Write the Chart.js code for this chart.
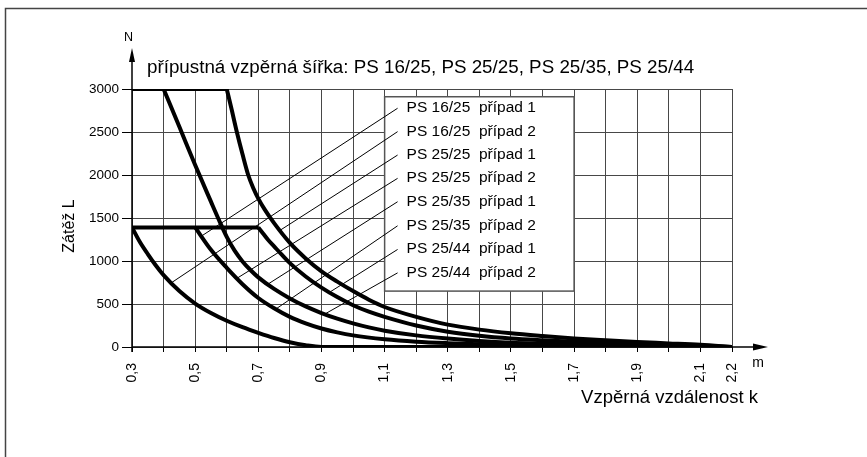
<!DOCTYPE html>
<html><head><meta charset="utf-8">
<script src="https://cdn.jsdelivr.net/npm/chart.js@4/dist/chart.umd.min.js"></script>
<style>html,body{margin:0;padding:0;background:#fff}#wrap{width:867px;height:457px;position:relative}</style>
</head><body><div id="wrap"><canvas id="c" width="867" height="457"></canvas></div>
<script>
const FONT = "'Liberation Sans', Arial, Helvetica, sans-serif";

// ---- tick values and labels ----
const xGridValues = [0.3,0.4,0.5,0.6,0.7,0.8,0.9,1.0,1.1,1.2,1.3,1.4,1.5,1.6,1.7,1.8,1.9,2.0,2.1,2.2];
const xLabelValues = [0.3,0.5,0.7,0.9,1.1,1.3,1.5,1.7,1.9,2.1,2.2];
const xTickLabels = ['0,3','0,5','0,7','0,9','1,1','1,3','1,5','1,7','1,9','2,1','2,2'];
const yTickValues = [0,500,1000,1500,2000,2500,3000];
const yTickLabels = ['0','500','1000','1500','2000','2500','3000'];

// ---- texts ----
const titleText = 'přípustná vzpěrná šířka: PS 16/25, PS 25/25, PS 25/35, PS 25/44';
const xAxisTitle = 'Vzpěrná vzdálenost k';
const yAxisTitle = 'Zátěž L';
const xUnit = 'm';
const yUnit = 'N';
const legendLabels = ['PS 16/25  případ 1','PS 16/25  případ 2','PS 25/25  případ 1','PS 25/25  případ 2',
                      'PS 25/35  případ 1','PS 25/35  případ 2','PS 25/44  případ 1','PS 25/44  případ 2'];

// ---- series (x = k [m], y = L [N]) ----
const flat3000 = [[0.3,3000],[0.6,3000]];
const flat1390 = [[0.3,1390],[0.7,1390]];
const curveA = [[0.6,3000],[0.615,2770],[0.632,2500],[0.65,2240],[0.668,2000],[0.685,1840],[0.7,1725],[0.72,1600],[0.75,1440],[0.8,1210],[0.85,1030],[0.9,880],[0.95,760],[1.0,650],[1.05,550],[1.1,465],[1.2,350],[1.3,260],[1.4,202],[1.5,160],[1.6,128],[1.7,100],[1.8,78],[1.9,58],[2.0,42],[2.1,25],[2.2,0]];
const curveB = [[0.4,3000],[0.45,2560],[0.5,2115],[0.55,1690],[0.575,1480],[0.6,1280],[0.625,1120],[0.65,995],[0.675,895],[0.7,810],[0.75,675],[0.8,565],[0.85,472],[0.9,395],[0.95,330],[1.0,275],[1.05,228],[1.1,190],[1.2,135],[1.3,98],[1.4,70],[1.5,50],[1.6,39],[1.7,30],[1.9,16],[2.1,6],[2.2,0]];
const curveC = [[0.7,1390],[0.715,1320],[0.73,1250],[0.75,1170],[0.775,1070],[0.8,975],[0.85,820],[0.9,690],[0.95,580],[1.0,485],[1.05,410],[1.1,350],[1.2,250],[1.3,178],[1.4,130],[1.5,98],[1.6,78],[1.7,62],[1.8,48],[1.9,35],[2.0,24],[2.1,12],[2.2,0]];
const curveD = [[0.5,1390],[0.55,1130],[0.6,920],[0.65,730],[0.7,570],[0.75,450],[0.8,350],[0.85,275],[0.9,215],[0.95,170],[1.0,135],[1.1,90],[1.2,62],[1.3,45],[1.4,33],[1.5,25],[1.7,14],[1.9,7],[2.2,0]];
const curveE = [[0.3,1390],[0.325,1220],[0.35,1080],[0.375,950],[0.4,835],[0.45,650],[0.5,505],[0.55,395],[0.6,305],[0.65,230],[0.7,165],[0.75,105],[0.8,55],[0.85,20],[0.9,0],[2.2,0]];

// ---- leader lines from curves to legend rows ----
const leaderStarts = [[0.52,1290],[0.426,750],[0.768,1355],[0.632,798],[0.73,730],[0.755,440],[0.925,635],[0.91,382]];
const leaderEndX = 1.141;
const leaderEndY = [2776,2504,2232,1961,1689,1409,1134,862];

// legend box extent in data units
const legendBoxX = [1.1, 1.7];
const legendBoxY = [650, 2910];

const pts = a => a.map(p => ({x:p[0], y:p[1]}));
const thick = (arr, smooth) => ({data: pts(arr), borderColor:'#000', borderWidth:4, pointRadius:0, showLine:true,
  fill:false, tension: smooth ? 0.4 : 0, cubicInterpolationMode: smooth ? 'monotone' : 'default', borderCapStyle:'butt', borderJoinStyle:'round'});

const datasets = [
  thick(flat3000,false), thick(flat1390,false),
  thick(curveA,true), thick(curveB,true), thick(curveC,true), thick(curveD,true), thick(curveE,true)
];
leaderStarts.forEach((s,i) => {
  datasets.push({data: pts([s,[leaderEndX, leaderEndY[i]]]), borderColor:'#000', borderWidth:1, pointRadius:0, showLine:true, tension:0});
});

const deco = {
  id:'deco',
  beforeDraw(chart){
    const ctx = chart.ctx;
    ctx.save();
    ctx.fillStyle = '#fff';
    ctx.fillRect(0,0,chart.width,chart.height);
    ctx.strokeStyle = '#444';
    ctx.lineWidth = 1.5;
    ctx.strokeRect(5.5, 8.5, 1000, 1000);
    ctx.restore();
  },
  beforeDatasetsDraw(chart){
    const {x, y} = chart.scales; const ctx = chart.ctx;
    const l = x.getPixelForValue(legendBoxX[0]), r = x.getPixelForValue(legendBoxX[1]);
    const t = y.getPixelForValue(legendBoxY[1]), b = y.getPixelForValue(legendBoxY[0]);
    ctx.save();
    ctx.fillStyle = '#fff';
    ctx.fillRect(l, t, r-l, b-t);
    ctx.strokeStyle = '#555'; ctx.lineWidth = 1.5;
    ctx.strokeRect(l, t, r-l, b-t);
    ctx.fillStyle = '#000';
    ctx.font = '15.5px ' + FONT;
    ctx.textAlign = 'left'; ctx.textBaseline = 'alphabetic';
    const tx = x.getPixelForValue(leaderEndX) + 9;
    legendLabels.forEach((s,i) => ctx.fillText(s, tx, y.getPixelForValue(leaderEndY[i]) + 4));
    ctx.restore();
  },
  afterDraw(chart){
    const {x, y} = chart.scales; const ctx = chart.ctx;
    const x0 = x.getPixelForValue(0.3), y0 = y.getPixelForValue(0);
    ctx.save();
    ctx.strokeStyle = '#000'; ctx.fillStyle = '#000'; ctx.lineWidth = 1.5;
    // y axis with arrow
    ctx.beginPath(); ctx.moveTo(x0, y0 + 5); ctx.lineTo(x0, 58); ctx.stroke();
    ctx.beginPath(); ctx.moveTo(x0, 48); ctx.lineTo(x0-3, 62); ctx.lineTo(x0+3, 62); ctx.closePath(); ctx.fill();
    // x axis with arrow
    ctx.beginPath(); ctx.moveTo(x0, y0); ctx.lineTo(760, y0); ctx.stroke();
    ctx.beginPath(); ctx.moveTo(768, y0); ctx.lineTo(753, y0-3.5); ctx.lineTo(753, y0+3.5); ctx.closePath(); ctx.fill();
    // texts
    ctx.textAlign = 'left'; ctx.textBaseline = 'alphabetic';
    ctx.font = '18.8px ' + FONT;
    ctx.fillText(titleText, 147, 73);
    ctx.font = '12.5px ' + FONT; ctx.textAlign = 'center';
    ctx.fillText(yUnit, x0 - 3.5, 41);
    ctx.font = '14px ' + FONT;
    ctx.fillText(xUnit, 758, 367);
    ctx.font = '18.5px ' + FONT; ctx.textAlign = 'right';
    ctx.fillText(xAxisTitle, 758, 403);
    ctx.translate(73.5, 226); ctx.rotate(-Math.PI/2);
    ctx.font = '16px ' + FONT; ctx.textAlign = 'center';
    ctx.fillText(yAxisTitle, 0, 0);
    ctx.restore();
  }
};

new Chart(document.getElementById('c'), {
  type: 'scatter',
  data: { datasets },
  options: {
    responsive: false, animation: false, devicePixelRatio: 1,
    layout: { padding: { left: 0, right: 135, top: 89, bottom: 60 } },
    plugins: { legend: { display: false }, tooltip: { enabled: false } },
    scales: {
      x: {
        type: 'linear', min: 0.3, max: 2.2,
        afterBuildTicks: s => { s.ticks = xGridValues.map(v => ({value: v})); },
        afterFit: s => { s.height = 50; },
        grid: { color: '#484848', lineWidth: 1, tickLength: 5, tickColor: '#000' },
        border: { display: false },
        ticks: { autoSkip: false, maxRotation: 90, minRotation: 90, padding: 11, color: '#000',
          font: { family: FONT, size: 14 },
          callback: v => { const i = xLabelValues.findIndex(t => Math.abs(t - v) < 1e-6); return i >= 0 ? xTickLabels[i] : ''; } }
      },
      y: {
        type: 'linear', min: 0, max: 3000,
        afterBuildTicks: s => { s.ticks = yTickValues.map(v => ({value: v})); },
        afterFit: s => { s.width = 132; },
        grid: { color: '#484848', lineWidth: 1, tickLength: 10, tickColor: '#000' },
        border: { display: false },
        ticks: { padding: 3, color: '#000', font: { family: FONT, size: 13.5 },
          callback: v => { const i = yTickValues.indexOf(v); return i >= 0 ? yTickLabels[i] : ''; } }
      }
    }
  },
  plugins: [deco]
});
</script></body></html>
